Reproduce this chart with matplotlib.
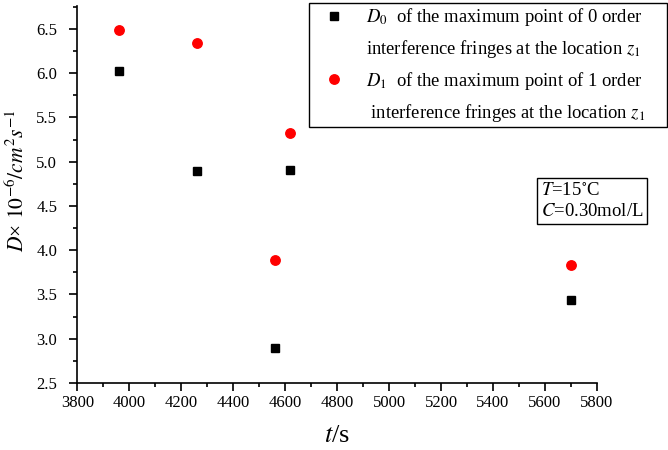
import matplotlib
matplotlib.use("Agg")
import matplotlib.pyplot as plt
from matplotlib.lines import Line2D
from matplotlib.ticker import MultipleLocator, FormatStrFormatter


# data
t_s = [3960, 4260, 4560, 4620, 5700]
d0 = [6.03, 4.90, 2.89, 4.91, 3.44]
d1 = [6.49, 6.34, 3.89, 5.32, 3.83]

legend_lines = [
    "$D_{\\mathit{0}}$  of the maximum point of 0 order",
    "interference fringes at the location $z_1$",
    "$D_{\\mathit{1}}$  of the maximum point of 1 order",
    " interference fringes at the location $z_1$",
]
note_text = "$T$=15$^{\\circ}$C\n$C$=0.30mol/L"

plt.rcParams["font.family"] = ["Liberation Serif", "DejaVu Sans"]
plt.rcParams["mathtext.fontset"] = "stix"

fig = plt.figure(figsize=(6.68, 4.5), dpi=100)
ax = fig.add_axes([0.1157, 0.149, 0.7780, 0.8377])

p0, = ax.plot(t_s, d0, linestyle="none", marker="s", markersize=5.8,
              color="black")
p1, = ax.plot(t_s, d1, linestyle="none", marker="o", markersize=6.8,
              color="red", markeredgecolor="red")

ax.set_xlim(3800, 5800)
ax.set_ylim(2.5, 6.76)
ax.xaxis.set_major_locator(MultipleLocator(200))
ax.xaxis.set_minor_locator(MultipleLocator(100))
ax.yaxis.set_major_locator(MultipleLocator(0.5))
ax.yaxis.set_minor_locator(MultipleLocator(0.25))
ax.yaxis.set_major_formatter(FormatStrFormatter("%.1f"))

for side in ("top", "right"):
    ax.spines[side].set_visible(False)
for side in ("left", "bottom"):
    ax.spines[side].set_linewidth(1.2)

ax.tick_params(which="major", direction="out", length=5.5, width=1.2,
               labelsize=12)
ax.tick_params(which="minor", direction="out", length=3, width=1.2)
ax.tick_params(axis="x", which="major", pad=3.5)
ax.tick_params(axis="y", which="major", pad=9)

ax.set_xlabel("$t$/s", fontsize=19, labelpad=10)
ax.set_ylabel(r"$D$" + "\u00d7 " + r"$\mathit{10^{-6}/cm^{2}s^{-1}}$",
              fontsize=15.5)
ax.yaxis.set_label_coords(-0.093, 0.536)

# legend: one row per text line so the markers sit on the first line
blank = Line2D([], [], linestyle="none", marker="none")
handles = [p0, blank, p1, blank]
leg = ax.legend(handles, legend_lines, loc="upper left", mode="expand",
                bbox_to_anchor=(309 / 668, 0, 358 / 668, 1 - 3 / 450),
                bbox_transform=fig.transFigure, fontsize=13.4,
                frameon=True, fancybox=False, edgecolor="black",
                framealpha=1, borderpad=0.17, labelspacing=0.53,
                handlelength=2.3, handletextpad=0.6, borderaxespad=0)
leg.get_frame().set_linewidth(1.0)

fig.text(541 / 668, 1 - 201 / 450, note_text, fontsize=13.5,
         ha="left", va="center", linespacing=1.3,
         bbox=dict(boxstyle="square,pad=0.2", facecolor="white",
                   edgecolor="black", linewidth=1.0))

fig.savefig("out.png", dpi=100)
